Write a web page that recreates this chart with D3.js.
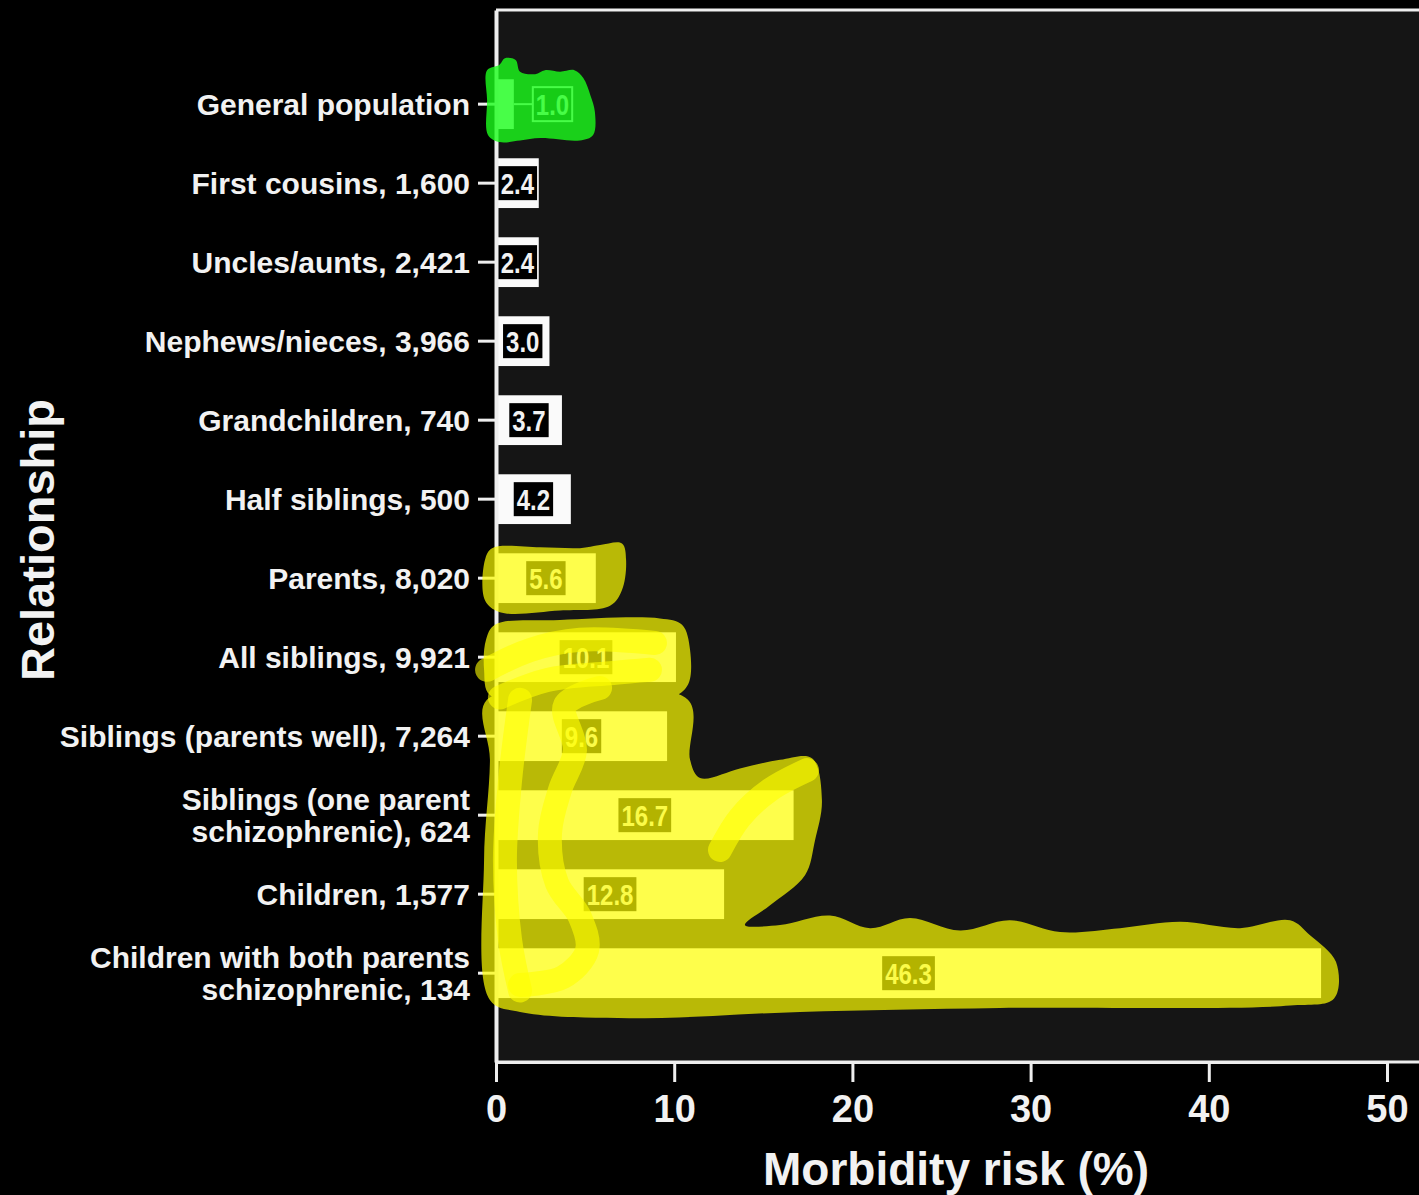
<!DOCTYPE html>
<html>
<head>
<meta charset="utf-8">
<script src="https://cdn.jsdelivr.net/npm/d3@7"></script>
<style>
body { margin: 0; background: #000; }
text { font-family: "Liberation Sans", Arial, sans-serif; font-weight: bold; fill: #f2f2f2; }
</style>
</head>
<body>
<svg id="drawing_region"></svg>
<script>
// categories (top to bottom), "|" splits a label over two lines
const categories = [
    "General population",
    "First cousins, 1,600",
    "Uncles/aunts, 2,421",
    "Nephews/nieces, 3,966",
    "Grandchildren, 740",
    "Half siblings, 500",
    "Parents, 8,020",
    "All siblings, 9,921",
    "Siblings (parents well), 7,264",
    "Siblings (one parent|schizophrenic), 624",
    "Children, 1,577",
    "Children with both parents|schizophrenic, 134"
];
const risks = [1.0, 2.4, 2.4, 3.0, 3.7, 4.2, 5.6, 10.1, 9.6, 16.7, 12.8, 46.3];
const xTicks = [0, 10, 20, 30, 40, 50];

// highlighter scribbles drawn over the figure, as [risk %, row index]
const greenMarks = [[-0.5,-0.43],[0.2,-0.5],[0.5,-0.58],[1.1,-0.56],[1.35,-0.41],[2.2,-0.38],[2.75,-0.43],[3.6,-0.41],[4.4,-0.43],[4.9,-0.33],[5.3,-0.11],[5.55,0.1],[5.45,0.39],[4.7,0.46],[2.5,0.43],[1.35,0.46],[0.2,0.48],[-0.45,0.39],[-0.5,-0.05]];
const yellowMarks = [
    [[-0.62,5.77],[-0.22,5.62],[2.47,5.61],[4.71,5.62],[5.84,5.58],[7.07,5.56],[7.3,5.77],[7.07,6.15],[6.4,6.35],[3.59,6.41],[0.22,6.43],[-0.62,6.28]],
    [[-0.56,6.78],[-0.06,6.59],[3.59,6.53],[9.2,6.51],[10.44,6.59],[10.89,6.91],[10.77,7.35],[9.76,7.52],[3.59,7.54],[-0.34,7.48],[-0.67,7.16]],
    [[-0.51,7.54],[10.77,7.54],[10.89,8.3],[11.45,8.53],[13.69,8.41],[15.94,8.3],[17.73,8.28],[18.29,8.81],[17.9,9.32],[17.34,9.76],[15.38,10.14],[13.97,10.39],[15.94,10.39],[18.74,10.27],[20.99,10.43],[23.23,10.3],[26.04,10.46],[28.84,10.33],[31.65,10.48],[35.02,10.43],[38.38,10.35],[41.75,10.43],[44.56,10.33],[45.68,10.52],[47.14,10.86],[47.03,11.32],[44.56,11.41],[28.28,11.44],[17.06,11.49],[8.08,11.57],[1.35,11.49],[-0.34,11.34],[-0.67,9.57],[-0.34,8.3]]
];
const yellowStrokes = [
    [[1.35,7.54],[0.79,8.56],[0.5,9.57],[0.79,10.58],[1.35,11.22]],
    [[5.84,7.39],[3.87,7.61],[4.43,8.18],[3.59,8.68],[3.03,9.23],[3.42,9.86],[4.71,10.29],[5.11,10.71],[3.76,11.05],[1.35,11.15]],
    [[12.57,9.44],[13.69,9.03],[15.38,8.68],[17.45,8.43]],
    [[-0.5,7.16],[1.91,6.91],[4.71,6.78],[8.92,6.82]],
    [[0.22,7.51],[2.86,7.29],[6.57,7.2],[8.64,7.16]]
];

const data = categories.map((c, i) => ({ label: c, value: risks[i] }));

class BarChart {

    constructor( config, data ) {
        this.config = {
            parent: config.parent,
            width: config.width || 256,
            height: config.height || 128,
            margin: config.margin || {top:10, right:10, bottom:10, left:10}
        }
        this.data = data;
        this.init();
    }

    init() {
        let self = this;

        self.svg = d3.select( self.config.parent )
            .attr('width', self.config.width)
            .attr('height', self.config.height);

        self.svg.append('rect')
            .attr('width', self.config.width)
            .attr('height', self.config.height)
            .attr('fill', '#000');

        self.chart = self.svg.append('g')
            .attr('transform', `translate(${self.config.margin.left}, ${self.config.margin.top})`);

        self.inner_width = self.config.width - self.config.margin.left - self.config.margin.right;
        self.inner_height = self.config.height - self.config.margin.top - self.config.margin.bottom;

        self.chart.append('rect')
            .attr('width', self.inner_width)
            .attr('height', self.inner_height)
            .attr('fill', '#151515');

        self.chart.append('line')
            .attr('x1', 0).attr('x2', self.inner_width)
            .attr('y1', 0).attr('y2', 0)
            .attr('stroke', '#eee')
            .attr('stroke-width', 3);

        self.xscale = d3.scaleLinear()
            .domain([0, 50])
            .range([0, 891]);

        self.yscale = d3.scaleBand()
            .domain(self.data.map( d => d.label ))
            .range([0, self.inner_height])
            .paddingInner(0.37)
            .paddingOuter(0.843)
            .align(0.52);

        const half = self.yscale.bandwidth() / 2;
        self.rows = d3.scaleLinear()
            .domain([0, categories.length - 1])
            .range([self.yscale(categories[0]) + half, self.yscale(categories[categories.length - 1]) + half]);

        self.xaxis = d3.axisBottom( self.xscale )
            .tickValues(xTicks)
            .tickSize(20)
            .tickPadding(13)
            .tickSizeOuter(0);

        self.yaxis = d3.axisLeft( self.yscale )
            .tickSize(18)
            .tickPadding(8)
            .tickSizeOuter(0);

        self.bar_group = self.chart.append('g');
        self.label_group = self.chart.append('g');
        self.xaxis_group = self.chart.append('g')
            .attr('transform', `translate(0, ${self.inner_height})`);
        self.yaxis_group = self.chart.append('g');
        self.mark_group = self.chart.append('g');
        self.text_group = self.svg.append('g');
    }

    update() {
        let self = this;
        self.render();
    }

    render() {
        let self = this;

        self.bar_group.selectAll("rect")
            .data(self.data)
            .join("rect")
            .attr("x", 0)
            .attr("y", d => self.yscale( d.label ))
            .attr("width", d => self.xscale(d.value))
            .attr("height", self.yscale.bandwidth())
            .attr("fill", "#fafafa");

        // value boxes
        self.label_group.selectAll("g")
            .data(self.data)
            .join("g")
            .each(function(d) {
                const g = d3.select(this);
                const t = g.append("text")
                    .attr("font-size", 30)
                    .attr("text-anchor", "middle")
                    .attr("dy", "0.36em")
                    .text(d.value.toFixed(1));
                const w = t.node().getComputedTextLength() * 0.8;
                t.attr("textLength", w).attr("lengthAdjust", "spacingAndGlyphs");
                const bw = w + 6, bh = 34;
                const barW = self.xscale(d.value);
                const inside = barW > bw - 2;
                const cx = inside ? barW / 2 : barW + 19 + bw / 2;
                const cy = self.yscale(d.label) + self.yscale.bandwidth() / 2;
                t.attr("x", cx).attr("y", cy);
                g.insert("rect", "text")
                    .attr("x", cx - bw / 2).attr("y", cy - bh / 2)
                    .attr("width", bw).attr("height", bh)
                    .attr("fill", "#000")
                    .attr("stroke", inside ? "none" : "#f5f5f5")
                    .attr("stroke-width", 2);
                if (!inside) {
                    g.insert("line", "rect")
                        .attr("x1", barW).attr("x2", cx - bw / 2)
                        .attr("y1", cy).attr("y2", cy)
                        .attr("stroke", "#f5f5f5")
                        .attr("stroke-width", 2);
                }
            });

        self.xaxis_group.call( self.xaxis );
        self.xaxis_group.append("line")
            .attr("x1", 0).attr("x2", self.inner_width)
            .attr("stroke", "#eee").attr("stroke-width", 3);
        self.xaxis_group.select(".domain").attr("stroke", "#eee").attr("stroke-width", 3);
        self.xaxis_group.selectAll(".tick line").attr("stroke", "#eee").attr("stroke-width", 3);
        self.xaxis_group.selectAll(".tick text")
            .attr("fill", "#f2f2f2")
            .attr("font-size", 38)
            .attr("font-family", null);

        self.yaxis_group.call( self.yaxis );
        self.yaxis_group.select(".domain").attr("stroke", "#eee").attr("stroke-width", 4);
        self.yaxis_group.selectAll(".tick line").attr("stroke", "#eee").attr("stroke-width", 3);
        self.yaxis_group.selectAll(".tick text")
            .attr("fill", "#f2f2f2")
            .attr("font-size", 30)
            .attr("font-family", null)
            .each(function(d) {
                const lines = d.split("|");
                const t = d3.select(this).text(null).attr("dy", null);
                lines.forEach((s, i) => {
                    t.append("tspan")
                        .attr("x", -26)
                        .attr("dy", i === 0 ? (0.35 - 0.53 * (lines.length - 1)) + "em" : "1.06em")
                        .text(s);
                });
            });

        // titles
        self.text_group.append("text")
            .attr("text-anchor", "middle")
            .attr("x", 956)
            .attr("y", 1185)
            .attr("font-size", 46)
            .text("Morbidity risk (%)");

        self.text_group.append("text")
            .attr("text-anchor", "middle")
            .attr("transform", "translate(54, 540) rotate(-90)")
            .attr("font-size", 47)
            .text("Relationship");

        // highlighter marks
        const blob = d3.line()
            .x(d => self.xscale(d[0]))
            .y(d => self.rows(d[1]))
            .curve(d3.curveCatmullRomClosed);
        const stroke = d3.line()
            .x(d => self.xscale(d[0]))
            .y(d => self.rows(d[1]))
            .curve(d3.curveCatmullRom);

        self.mark_group.append("path")
            .attr("d", blob(greenMarks))
            .attr("fill", "#1cff1c")
            .attr("opacity", 0.8);

        self.mark_group.append("path")
            .attr("d", yellowMarks.map(p => blob(p)).join(""))
            .attr("fill", "#ffff00")
            .attr("opacity", 0.7);

        self.mark_group.selectAll(".stroke")
            .data(yellowStrokes)
            .join("path")
            .attr("class", "stroke")
            .attr("d", d => stroke(d))
            .attr("fill", "none")
            .attr("stroke", "#ffff00")
            .attr("stroke-width", 24)
            .attr("stroke-linecap", "round")
            .attr("stroke-linejoin", "round")
            .attr("opacity", 0.6);
    }
}

const config = {
    parent: '#drawing_region',
    width: 1419,
    height: 1195,
    margin: {top:10, right:0, bottom:133, left:496}
};
const barChart = new BarChart( config, data );
barChart.update();
</script>
</body>
</html>
